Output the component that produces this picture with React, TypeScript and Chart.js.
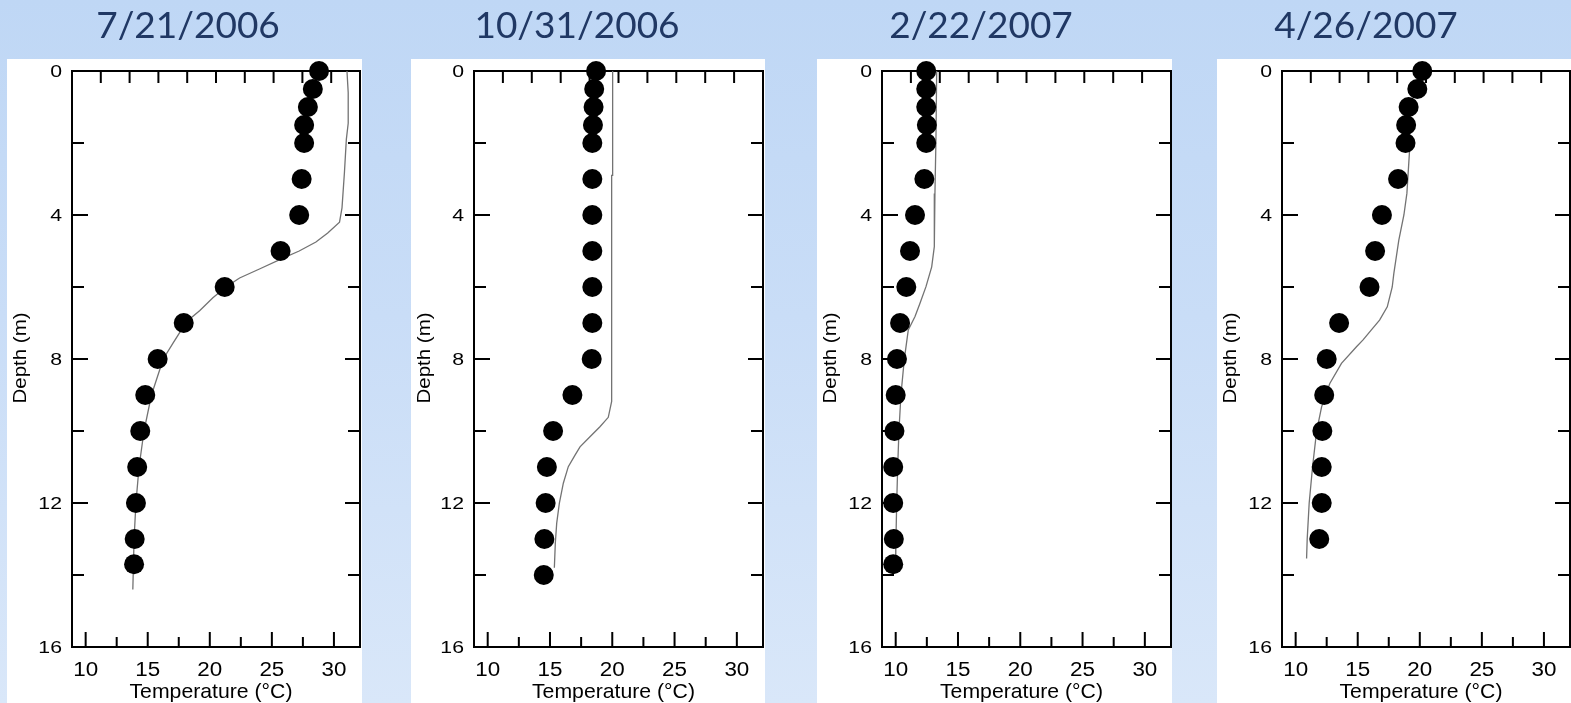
import React, { useEffect, useRef } from 'react';
import { Chart, registerables } from 'chart.js';

Chart.register(...registerables);

// ---------- data ----------
const titles = ['7/21/2006', '10/31/2006', '2/22/2007', '4/26/2007'];

// observed profiles: depth (m) and temperature (°C)
const obsDepthJul06 = [0, 0.5, 1, 1.5, 2, 3, 4, 5, 6, 7, 8, 9, 10, 11, 12, 13, 13.7];
const obsTempJul06 = [28.8, 28.3, 27.9, 27.6, 27.6, 27.4, 27.2, 25.7, 21.2, 17.9, 15.8, 14.8, 14.4, 14.15, 14.05, 13.95, 13.9];

const obsDepthOct06 = [0, 0.5, 1, 1.5, 2, 3, 4, 5, 6, 7, 8, 9, 10, 11, 12, 13, 14];
const obsTempOct06 = [18.7, 18.55, 18.5, 18.45, 18.4, 18.4, 18.4, 18.4, 18.4, 18.4, 18.35, 16.8, 15.25, 14.75, 14.65, 14.55, 14.5];

const obsDepthFeb07 = [0, 0.5, 1, 1.5, 2, 3, 4, 5, 6, 7, 8, 9, 10, 11, 12, 13, 13.7];
const obsTempFeb07 = [12.45, 12.45, 12.45, 12.5, 12.45, 12.3, 11.55, 11.15, 10.85, 10.35, 10.1, 10.0, 9.9, 9.8, 9.8, 9.85, 9.8];

const obsDepthApr07 = [0, 0.5, 1, 1.5, 2, 3, 4, 5, 6, 7, 8, 9, 10, 11, 12, 13];
const obsTempApr07 = [20.2, 19.8, 19.1, 18.9, 18.85, 18.25, 16.95, 16.4, 15.95, 13.5, 12.5, 12.3, 12.15, 12.1, 12.1, 11.9];

// modelled profiles
const modDepthJul06 = [0, 0.6, 1.45, 1.9, 2.8, 3.8, 4.2, 4.5, 4.75, 5, 5.2, 5.5, 5.75, 6, 6.3, 6.65, 7, 7.2, 7.55, 8, 9, 10, 11, 12, 13, 14.4];
const modTempJul06 = [31.05, 31.15, 31.15, 31.0, 30.85, 30.65, 30.45, 29.5, 28.55, 27.2, 25.9, 24.0, 22.4, 21.3, 20.25, 19.2, 18.0, 17.7, 17.05, 16.25, 15.3, 14.7, 14.3, 14.05, 13.9, 13.8];

const modDepthOct06 = [0, 2.9, 2.9, 9.18, 9.62, 9.88, 10.16, 10.44, 10.67, 10.99, 11.45, 12.01, 12.56, 13.1, 13.8];
const modTempOct06 = [20.03, 20.03, 19.95, 19.95, 19.68, 19.01, 18.21, 17.41, 17.01, 16.47, 16.07, 15.75, 15.54, 15.43, 15.35];

const modDepthFeb07 = [0, 1.92, 3.4, 4.88, 5.44, 5.99, 6.45, 6.82, 7.19, 8.01, 9, 10, 11, 12, 13, 13.68];
const modTempFeb07 = [13.29, 13.23, 13.15, 13.1, 12.89, 12.43, 11.95, 11.55, 11.01, 10.69, 10.42, 10.26, 10.16, 10.08, 10.02, 10.0];

const modDepthApr07 = [2.0, 2.24, 3.4, 4, 4.7, 5.62, 6, 6.55, 6.92, 7.19, 7.47, 7.66, 8.12, 8.68, 9.33, 10, 11, 12, 13, 13.54];
const modTempApr07 = [19.2, 19.17, 18.96, 18.72, 18.31, 17.91, 17.78, 17.38, 16.76, 16.1, 15.43, 14.9, 13.69, 12.75, 12.09, 11.69, 11.36, 11.09, 10.93, 10.88];

// axis ticks
const xTickLabels = [10, 15, 20, 25, 30];
const xMinorTicks = [12.5, 17.5, 22.5, 27.5];
const yTickLabels = [0, 4, 8, 12, 16];
const yMinorTicks = [2, 6, 10, 14];
const topTicks = [1, 2, 3, 4, 5, 6, 7, 8, 9];

const xLabel = 'Temperature (°C)';
const yLabel = 'Depth (m)';

// ---------- layout ----------
const PAGE_W = 1571;
const PAGE_H = 703;
const WHITE_TOP = 59;
const PANEL_LEFT = [7, 411, 817, 1217];
const PANEL_W = [355, 354, 355, 354];
const PLOT_OFFSET = [65, 63, 65, 65];
const PLOT_W = [288, 289, 289, 288];
const PLOT_TOP = 71;
const PLOT_BOTTOM = 647;
const TITLE_CX = [188, 577, 981, 1366];
const TITLE_BASELINE = 38;
const TITLE_COLOR = '#203864';

const panels = [
  { title: titles[0], od: obsDepthJul06, ot: obsTempJul06, md: modDepthJul06, mt: modTempJul06 },
  { title: titles[1], od: obsDepthOct06, ot: obsTempOct06, md: modDepthOct06, mt: modTempOct06 },
  { title: titles[2], od: obsDepthFeb07, ot: obsTempFeb07, md: modDepthFeb07, mt: modTempFeb07 },
  { title: titles[3], od: obsDepthApr07, ot: obsTempApr07, md: modDepthApr07, mt: modTempApr07 },
];

function drawScaledText(ctx: CanvasRenderingContext2D, text: string, x: number, y: number, font: string, align: CanvasTextAlign, sx: number) {
  ctx.save();
  ctx.font = font;
  ctx.textAlign = align;
  ctx.textBaseline = 'alphabetic';
  ctx.translate(x, y);
  ctx.scale(sx, 1);
  ctx.fillText(text, 0, 0);
  ctx.restore();
}

function makePlugin(idx: number) {
  return {
    id: 'panelDecor' + idx,
    beforeDraw(chart: any) {
      const ctx: CanvasRenderingContext2D = chart.ctx;
      ctx.save();
      ctx.fillStyle = '#ffffff';
      ctx.fillRect(0, WHITE_TOP, chart.width, chart.height - WHITE_TOP);
      ctx.fillStyle = TITLE_COLOR;
      ctx.font = '37px Lato';
      ctx.textAlign = 'center';
      ctx.textBaseline = 'alphabetic';
      ctx.fillText(panels[idx].title, TITLE_CX[idx] - PANEL_LEFT[idx], TITLE_BASELINE);
      ctx.restore();
    },
    beforeDatasetsDraw(chart: any) {
      const ctx: CanvasRenderingContext2D = chart.ctx;
      const a = chart.chartArea;
      const xs = chart.scales.x;
      const ys = chart.scales.y;
      const xt = chart.scales.xTop;
      ctx.save();
      ctx.strokeStyle = '#000';
      ctx.lineWidth = 2;
      ctx.strokeRect(a.left, a.top, a.right - a.left, a.bottom - a.top);
      ctx.beginPath();
      for (const v of xTickLabels) {
        const p = xs.getPixelForValue(v);
        ctx.moveTo(p, a.bottom);
        ctx.lineTo(p, a.bottom - 15);
      }
      for (const v of xMinorTicks) {
        const p = xs.getPixelForValue(v);
        ctx.moveTo(p, a.bottom);
        ctx.lineTo(p, a.bottom - 10);
      }
      for (const v of topTicks) {
        const p = xt.getPixelForValue(v);
        ctx.moveTo(p, a.top);
        ctx.lineTo(p, a.top + 12);
      }
      for (const v of yTickLabels) {
        const p = ys.getPixelForValue(v);
        ctx.moveTo(a.left, p);
        ctx.lineTo(a.left + 16, p);
        ctx.moveTo(a.right, p);
        ctx.lineTo(a.right - 15, p);
      }
      for (const v of yMinorTicks) {
        const p = ys.getPixelForValue(v);
        ctx.moveTo(a.left, p);
        ctx.lineTo(a.left + 12, p);
        ctx.moveTo(a.right, p);
        ctx.lineTo(a.right - 12, p);
      }
      ctx.stroke();

      ctx.fillStyle = '#000';
      for (const v of yTickLabels) {
        const p = ys.getPixelForValue(v);
        drawScaledText(ctx, String(v), a.left - 10, p + 6, '17px "Liberation Sans"', 'right', 1.25);
      }
      for (const v of xTickLabels) {
        const p = xs.getPixelForValue(v);
        drawScaledText(ctx, String(v), p, a.bottom + 29, '20px "Liberation Sans"', 'center', 1.12);
      }
      // x axis title
      ctx.font = '21px "Liberation Sans"';
      const tw = ctx.measureText(xLabel).width;
      drawScaledText(ctx, xLabel, (a.left + a.right) / 2 - 5, a.bottom + 51, '21px "Liberation Sans"', 'center', 163 / tw);
      // y axis title (rotated)
      ctx.save();
      ctx.font = '18px "Liberation Sans"';
      const yw = ctx.measureText(yLabel).width;
      ctx.translate(13 + 6, (a.top + a.bottom) / 2 - 1);
      ctx.rotate(-Math.PI / 2);
      ctx.scale(91 / yw, 1);
      ctx.textAlign = 'center';
      ctx.textBaseline = 'alphabetic';
      ctx.fillText(yLabel, 0, 0);
      ctx.restore();
      ctx.restore();
    },
  };
}

function Panel({ idx }: { idx: number }) {
  const ref = useRef<HTMLCanvasElement | null>(null);
  useEffect(() => {
    if (!ref.current) return;
    const p = panels[idx];
    const w = PANEL_W[idx];
    const chart = new Chart(ref.current, {
      type: 'scatter',
      data: {
        datasets: [
          {
            label: 'Observed',
            data: p.od.map((d, i) => ({ x: p.ot[i], y: d })),
            pointRadius: 10,
            pointHoverRadius: 10,
            pointBackgroundColor: '#000',
            pointBorderWidth: 0,
            showLine: false,
            clip: false,
            order: 0,
          } as any,
          {
            label: 'Model',
            data: p.md.map((d, i) => ({ x: p.mt[i], y: d })),
            showLine: true,
            pointRadius: 0,
            borderColor: '#737373',
            borderWidth: 1.3,
            tension: 0,
            fill: false,
            clip: false,
            order: 1,
          } as any,
        ],
      },
      options: {
        animation: false,
        responsive: false,
        devicePixelRatio: 1,
        events: [],
        layout: {
          autoPadding: false,
          padding: {
            left: PLOT_OFFSET[idx],
            right: w - PLOT_OFFSET[idx] - PLOT_W[idx],
            top: PLOT_TOP,
            bottom: PAGE_H - PLOT_BOTTOM,
          },
        },
        scales: {
          x: { type: 'linear', min: 8.9, max: 32.1, display: false },
          xTop: { type: 'linear', axis: 'x', position: 'top', min: 0, max: 10, display: false },
          y: { type: 'linear', min: 0, max: 16, reverse: true, display: false },
        },
        plugins: { legend: { display: false }, tooltip: { enabled: false }, title: { display: false } },
      } as any,
      plugins: [makePlugin(idx)],
    });
    return () => chart.destroy();
  }, [idx]);
  return (
    <canvas
      ref={ref}
      width={PANEL_W[idx]}
      height={PAGE_H}
      style={{ position: 'absolute', left: PANEL_LEFT[idx], top: 0, width: PANEL_W[idx], height: PAGE_H }}
    />
  );
}

export default function App() {
  return (
    <div
      style={{
        position: 'fixed',
        left: 0,
        top: 0,
        width: PAGE_W,
        height: PAGE_H,
        overflow: 'hidden',
        background: 'linear-gradient(180deg, #BFD7F5 0%, #C9DDF7 45%, #D9E7F9 100%)',
      }}
    >
      {panels.map((_, i) => (
        <Panel key={i} idx={i} />
      ))}
    </div>
  );
}
